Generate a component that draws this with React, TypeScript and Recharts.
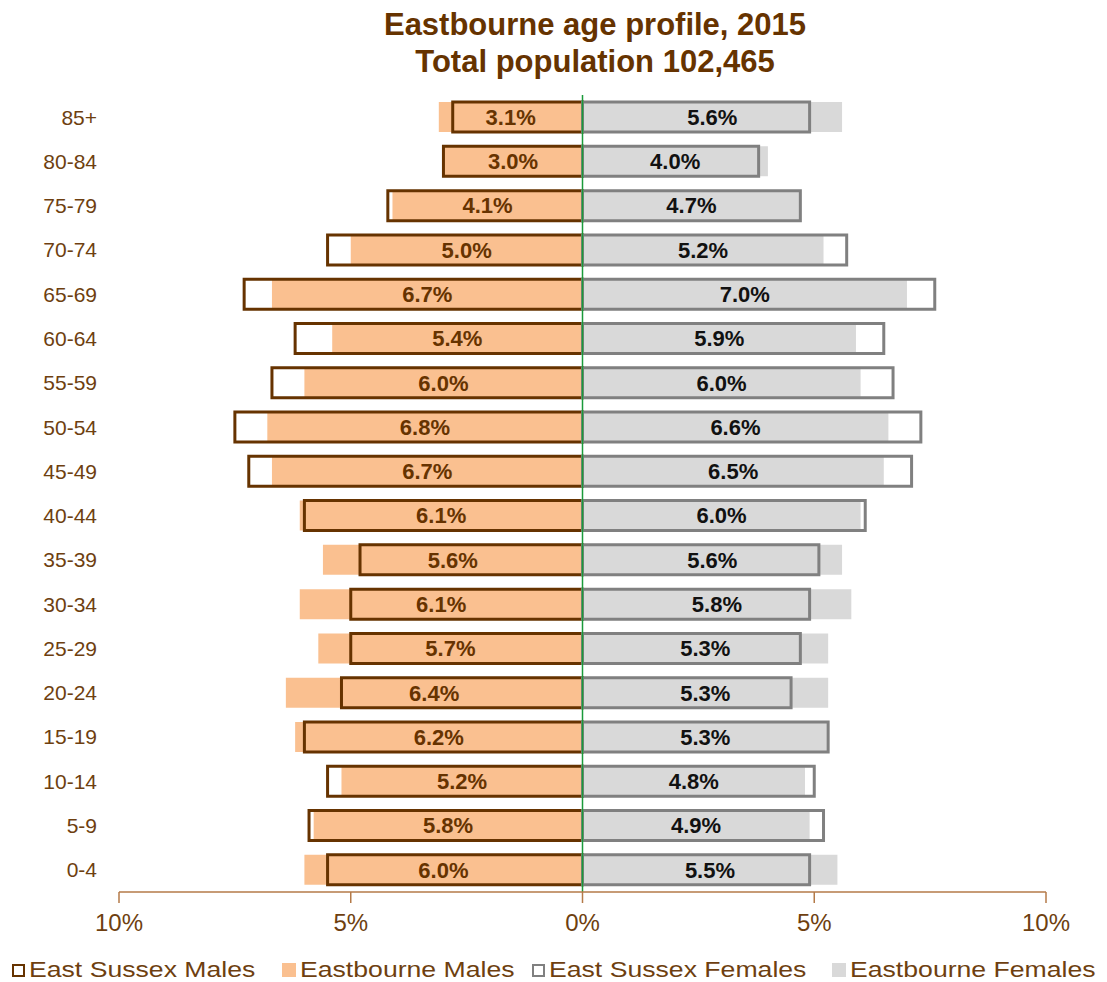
import React from 'react';
import { BarChart, Bar, XAxis, YAxis, ReferenceLine, LabelList } from 'recharts';

const ages = ['85+', '80-84', '75-79', '70-74', '65-69', '60-64', '55-59', '50-54', '45-49', '40-44', '35-39', '30-34', '25-29', '20-24', '15-19', '10-14', '5-9', '0-4'];
const eastbourneMales = [3.1, 3.0, 4.1, 5.0, 6.7, 5.4, 6.0, 6.8, 6.7, 6.1, 5.6, 6.1, 5.7, 6.4, 6.2, 5.2, 5.8, 6.0];
const eastbourneFemales = [5.6, 4.0, 4.7, 5.2, 7.0, 5.9, 6.0, 6.6, 6.5, 6.0, 5.6, 5.8, 5.3, 5.3, 5.3, 4.8, 4.9, 5.5];
const eastSussexMales = [2.8, 3.0, 4.2, 5.5, 7.3, 6.2, 6.7, 7.5, 7.2, 6.0, 4.8, 5.0, 5.0, 5.2, 6.0, 5.5, 5.9, 5.5];
const eastSussexFemales = [4.9, 3.8, 4.7, 5.7, 7.6, 6.5, 6.7, 7.3, 7.1, 6.1, 5.1, 4.9, 4.7, 4.5, 5.3, 5.0, 5.2, 4.9];
const xTicks = [-10, -5, 0, 5, 10];

const BROWN = '#663300';
const TEXT = '#6e3f10';
const AXIS = '#b47a48';
const FONT = 'Arial, "Liberation Sans", sans-serif';

const legendItems = [
  { label: 'East Sussex Males', left: 12, fill: '#fff', stroke: BROWN },
  { label: 'Eastbourne Males', left: 282, fill: '#fac090', stroke: 'none' },
  { label: 'East Sussex Females', left: 532, fill: '#fff', stroke: '#808080' },
  { label: 'Eastbourne Females', left: 832, fill: '#d9d9d9', stroke: 'none' },
];

const pct = (v: any) => Math.abs(Number(v)).toFixed(1) + '%';

export default function App() {
  const data = ages.map((age, i) => ({
    age,
    ebM: -eastbourneMales[i],
    ebF: eastbourneFemales[i],
    esM: -eastSussexMales[i],
    esF: eastSussexFemales[i],
  }));

  return (
    <div style={{ position: 'absolute', left: 0, top: 0, width: 1107, height: 982, background: '#fff', fontFamily: FONT }}>
      <div style={{ position: 'absolute', left: 295, top: 6, width: 600, textAlign: 'center', fontWeight: 700, fontSize: 31, lineHeight: '37px', color: BROWN }}>
        Eastbourne age profile, 2015
        <br />
        Total population 102,465
      </div>

      <BarChart
        width={1107}
        height={945}
        data={data}
        layout="vertical"
        stackOffset="sign"
        barCategoryGap="16%"
        margin={{ top: 95, right: 61, bottom: 0, left: 0 }}
        style={{ position: 'absolute', left: 0, top: 0 }}
      >
        <XAxis
          type="number"
          domain={[-10, 10]}
          ticks={xTicks}
          tickFormatter={(v) => Math.abs(v) + '%'}
          height={53}
          axisLine={{ stroke: AXIS, strokeWidth: 1.5 }}
          tickLine={{ stroke: AXIS, strokeWidth: 1.5 }}
          tickSize={11}
          tickMargin={11}
          tick={{ fill: TEXT, fontSize: 24, fontFamily: FONT }}
        />
        <YAxis
          yAxisId="eb"
          type="category"
          dataKey="age"
          width={119}
          axisLine={false}
          tickLine={false}
          tickSize={0}
          tickMargin={22}
          tick={{ fill: TEXT, fontSize: 21, fontFamily: FONT }}
        />
        <YAxis yAxisId="es" type="category" dataKey="age" hide />

        <Bar yAxisId="eb" dataKey="ebM" stackId="eb" fill="#fac090" isAnimationActive={false}>
          <LabelList dataKey="ebM" position="center" formatter={pct} fill={BROWN} fontSize={22} fontWeight={700} fontFamily={FONT} />
        </Bar>
        <Bar yAxisId="eb" dataKey="ebF" stackId="eb" fill="#d9d9d9" isAnimationActive={false}>
          <LabelList dataKey="ebF" position="center" formatter={pct} fill="#111" fontSize={22} fontWeight={700} fontFamily={FONT} />
        </Bar>
        <Bar yAxisId="es" dataKey="esM" stackId="es" fill="none" stroke={BROWN} strokeWidth={3} isAnimationActive={false} />
        <Bar yAxisId="es" dataKey="esF" stackId="es" fill="none" stroke="#808080" strokeWidth={3} isAnimationActive={false} />

        <ReferenceLine yAxisId="eb" x={0} stroke="#1a9a3a" strokeWidth={1.5} />
      </BarChart>

      {legendItems.map((it) => (
        <div
          key={it.label}
          style={{
            position: 'absolute',
            left: it.left,
            top: 957,
            display: 'flex',
            alignItems: 'center',
            fontSize: 22,
            color: TEXT,
            whiteSpace: 'nowrap',
          }}
        >
          <span
            style={{
              display: 'inline-block',
              width: it.stroke === 'none' ? 14 : 9,
              height: it.stroke === 'none' ? 14 : 9,
              background: it.fill,
              border: it.stroke === 'none' ? 'none' : `2.5px solid ${it.stroke}`,
              marginRight: 4,
            }}
          />
          <span style={{ display: 'inline-block', transform: 'scaleX(1.21)', transformOrigin: 'left center' }}>{it.label}</span>
        </div>
      ))}
    </div>
  );
}
